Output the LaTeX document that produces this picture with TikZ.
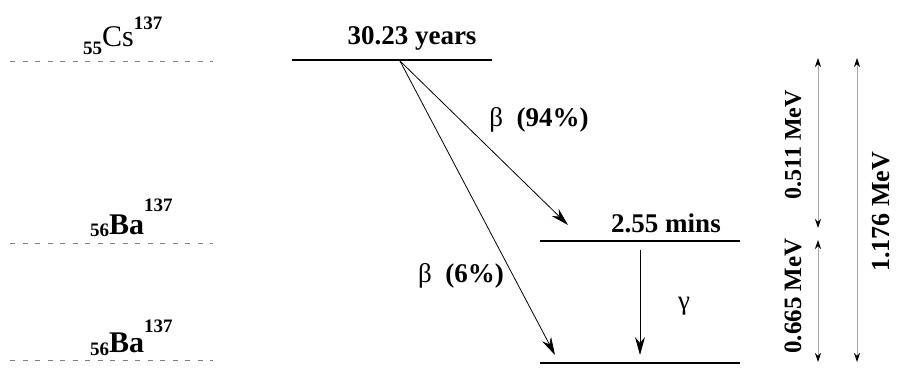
\documentclass[tikz,border=0pt]{standalone}
\usepackage{fontspec}
\setmainfont{Liberation Serif}
\usetikzlibrary{arrows.meta}

% shifted sub- and superscripts of a nuclide
\newcommand{\nuclide}[5]{\raisebox{#1}{\fontsize{19}{19}\selectfont\bfseries #2}#3\raisebox{#4}{\fontsize{19}{19}\selectfont\bfseries #5}}

\begin{document}
\begin{tikzpicture}[
    x=1pt, y=1pt,
    every node/.style={font=\fontsize{27}{30}\selectfont, inner sep=0pt},
    bar/.style={fill, minimum width=200pt, minimum height=2.2pt},
    guide/.style={gray, line width=0.9pt, dash pattern=on 5pt off 7.5pt},
    decay/.style={line width=0.8pt, -{Stealth[length=18pt, width=10pt, inset=6pt]}},
    gap/.style={gray!70, line width=0.8pt, {Stealth[black, length=9pt, width=6pt]}-{Stealth[black, length=9pt, width=6pt]}},
    nuc/.style={anchor=base west, font=\fontsize{30}{32}\selectfont}
]
\useasboundingbox (0,0) rectangle (898,370);

% left reference levels
\coordinate (csL) at (10,309);
\coordinate (csR) at (213,309);
\coordinate (baL) at (10,127);
\coordinate (baR) at (213,127);
\coordinate (gsL) at (10,10);
\coordinate (gsR) at (213,10);
\draw[guide] (csL) -- (csR);
\draw[guide] (baL) -- (baR);
\draw[guide] (gsL) -- (gsR);

\node[nuc] (csname) at (83,323) {\nuclide{-8pt}{55}{Cs}{17pt}{137}};
\node[nuc] (baname) at (90,135) {\nuclide{-2pt}{56}{\textbf{Ba}}{23pt}{137}};
\node[nuc] (gsname) at (90,17) {\nuclide{-3pt}{56}{\textbf{Ba}}{20pt}{137}};

% energy levels
\node[bar] (cs) at (392,310) {};
\node[bar] (ba1) at (640,129) {};
\node[bar] (ba0) at (640,7) {};
\node[anchor=base] (tcs) at (412,325) {\textbf{30.23 years}};
\node[anchor=base] (tba) at (666,137) {\textbf{2.55 mins}};

% transitions
\coordinate (src) at (400,309);
\coordinate (hit1) at (568,145);
\coordinate (hit0) at (555,15);
\coordinate (gtop) at (640,120);
\coordinate (gbot) at (640,15);
\draw[decay] (src) -- (hit1);
\draw[decay] (src) -- (hit0);
\draw[decay] (gtop) -- (gbot);
\node (b94) at (539,250) {β\ \ \textbf{(94\%)}};
\node (b6) at (461,94) {β\ \ \textbf{(6\%)}};
\node (gam) at (684,64) {γ};

% energy gaps
\coordinate (e1t) at (818,312);
\coordinate (e1b) at (818,142);
\coordinate (e2t) at (818,130);
\coordinate (e2b) at (818,8);
\coordinate (e3t) at (857,312);
\coordinate (e3b) at (857,8);
\draw[gap] (e1t) -- (e1b);
\draw[gap] (e2t) -- (e2b);
\draw[gap] (e3t) -- (e3b);
\node[rotate=90, font=\fontsize{24}{26}\selectfont\bfseries] (q1) at (793,225) {0.511 MeV};
\node[rotate=90, font=\fontsize{25}{26}\selectfont\bfseries] (q2) at (793,74) {0.665 MeV};
\node[rotate=90, font=\fontsize{26}{28}\selectfont\bfseries] (q3) at (881,158) {1.176 MeV};

\end{tikzpicture}
\end{document}
